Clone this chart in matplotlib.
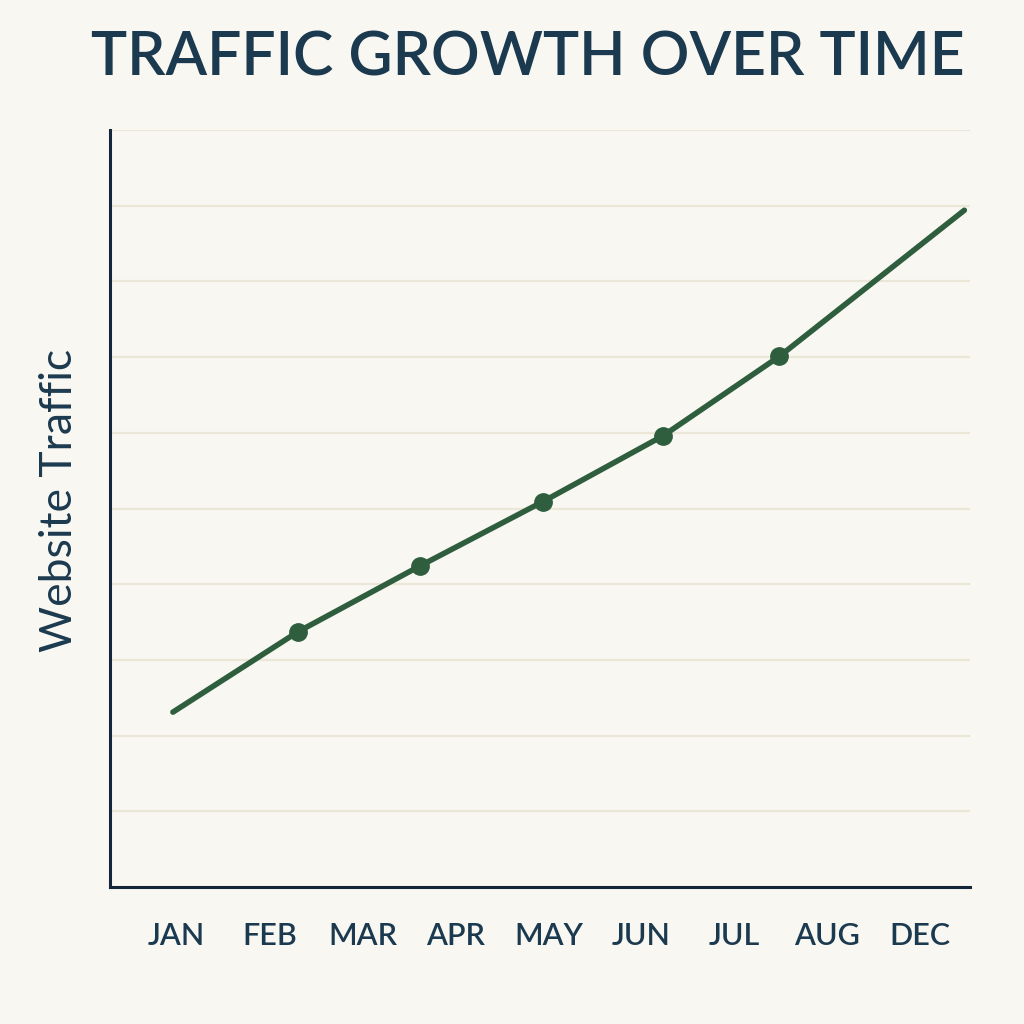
import matplotlib.pyplot as plt
import numpy as np

months = ["JAN", "FEB", "MAR", "APR", "MAY", "JUN", "JUL", "AUG", "DEC"]
# line vertices, in month-slot units (x) and grid units (y)
line_x = [-0.04, 1.29, 2.59, 3.90, 5.18, 6.42, 8.39]
line_y = [2.31, 3.37, 4.24, 5.09, 5.96, 7.01, 8.94]
marker_x = [1.29, 2.59, 3.90, 5.18, 6.42]
marker_y = [3.37, 4.24, 5.09, 5.96, 7.01]

bg = "#f9f7f2"
navy = "#1b3a4f"
green = "#2e5e3e"
grid_col = "#ebe7d6"

fig = plt.figure(figsize=(10.24, 10.24), dpi=100, facecolor=bg)
ax = fig.add_axes([110/1024, 1 - 887/1024, 860/1024, 757/1024])
ax.set_facecolor(bg)

ax.plot(line_x, line_y, color=green, lw=4, solid_capstyle="round", zorder=3)
ax.plot(marker_x, marker_y, "o", color=green, ms=12.5, zorder=4)

ax.set_xlim(-0.71, 8.45)
ax.set_ylim(0, 10)
ax.set_yticks(np.arange(1, 11))
ax.yaxis.grid(True, color=grid_col, lw=1.6)
ax.set_yticklabels([])
ax.tick_params(axis="y", length=0)
ax.set_xticks(np.arange(len(months)) * 0.99)
ax.set_xticklabels(months, fontsize=22, color=navy, family="Lato", fontweight="semibold")
ax.tick_params(axis="x", length=0, pad=25)

for s in ["top", "right"]:
    ax.spines[s].set_visible(False)
for s in ["left", "bottom"]:
    ax.spines[s].set_color("#14263a")
    ax.spines[s].set_linewidth(2.2)

fig.text(60/1024, 1 - 500/1024, "Website Traffic", rotation=90, ha="center", va="center",
         fontsize=32, color=navy, family="Lato")

fig.text(528/1024, 1 - 58/1024, "TRAFFIC GROWTH OVER TIME", ha="center", va="center",
         fontsize=43.7, fontweight="semibold", color=navy, family="Lato")

fig.savefig("out.png", dpi=100, facecolor=bg)
